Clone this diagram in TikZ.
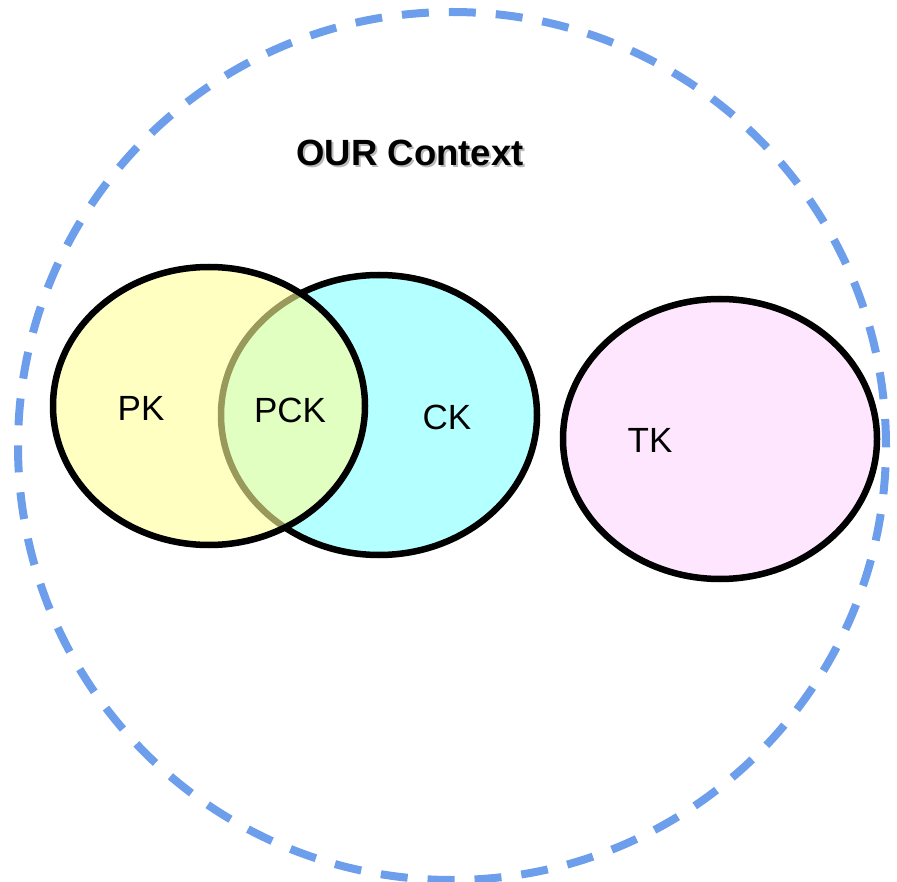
\documentclass[tikz,border=0pt]{standalone}
\usepackage{fontspec}
\setmainfont{Liberation Sans}
\usepackage{tikz}
\usetikzlibrary{positioning, shapes.geometric}
\definecolor{ctxblue}{HTML}{6D9EEB}
\definecolor{pkyellow}{HTML}{FFFF99}
\definecolor{ckcyan}{HTML}{B4FFFF}
\definecolor{tkpink}{HTML}{FFE6FF}
\tikzset{
  context/.style = {circle, draw=ctxblue, line width=8pt,
                    dash pattern=on 27pt off 20pt, inner sep=0pt,
                    minimum size=868pt},
  knows/.style   = {ellipse, draw=black, line width=6.5pt, inner sep=0pt},
  klabel/.style  = {font=\fontsize{35}{40}\selectfont, inner sep=0pt},
  ttl/.style     = {font=\fontsize{36.5}{40}\selectfont\bfseries, inner sep=0pt},
}

\begin{document}
\begin{tikzpicture}[x=1pt, y=-1pt]
  \useasboundingbox (0,0) rectangle (897,882);

  % outer context
  \node[context] (ctx) at (452,446) {};
  \node[ttl, text=black!45, opacity=0.6] (ttlshadow) at (412,155) {OUR Context};
  \node[ttl] (ttl) at (410,153) {OUR Context};

  % knowledge sets
  \node[knows, fill=ckcyan, minimum width=316pt, minimum height=280pt] (ck) at (379,415) {};
  \node[knows, fill=pkyellow, fill opacity=0.6, minimum width=312pt, minimum height=278pt] (pk) at (209,406) {};
  \node[knows, fill=tkpink, minimum width=314pt, minimum height=280pt] (tk) at (720,439) {};

  % labels
  \node[klabel] (pklbl) at (141,408) {PK};
  \node[klabel] (pcklbl) at (290,410) {PCK};
  \node[klabel] (cklbl) at (447,417) {CK};
  \node[klabel] (tklbl) at (650,440) {TK};

\end{tikzpicture}
\end{document}
